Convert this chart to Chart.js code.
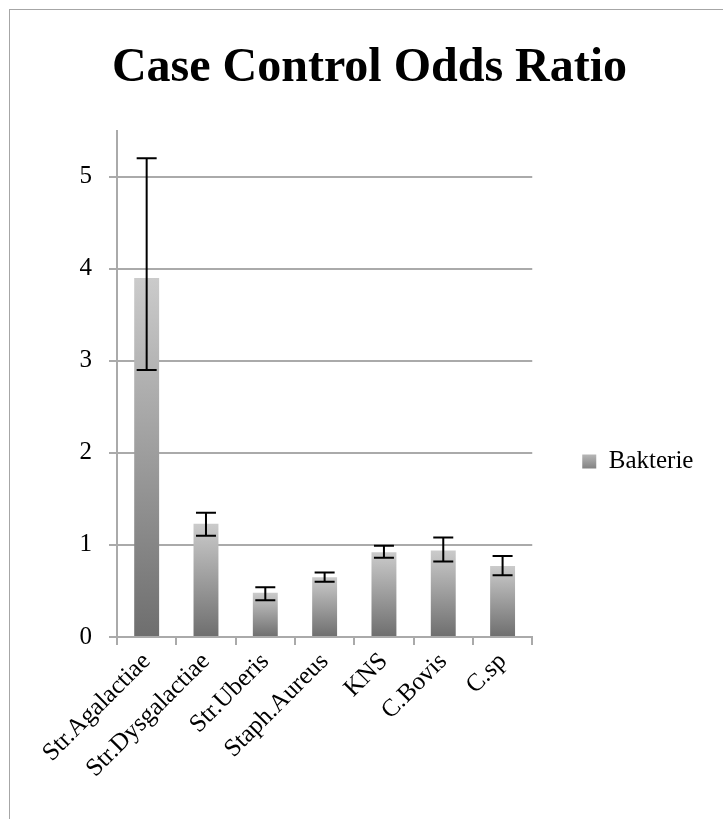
<!DOCTYPE html>
<html lang="en">
<head>
    <meta charset="UTF-8">
    <title>Case Control Odds Ratio</title>
    <script src="https://cdn.jsdelivr.net/npm/chart.js"></script>
    <style>
        html, body { margin: 0; padding: 0; background: #fff; overflow: hidden; }
        #frame { position: absolute; left: 9px; top: 9px; width: 800px; height: 900px; border: 1px solid #a6a6a6; }
        #wrap { position: absolute; left: 0; top: 0; width: 723px; height: 819px; }
    </style>
</head>
<body>
    <div id="frame"></div>
    <div id="wrap"><canvas id="oddsChart" width="723" height="819"></canvas></div>

    <script>
        // values
        const categories = ['Str.Agalactiae', 'Str.Dysgalactiae', 'Str.Uberis', 'Staph.Aureus', 'KNS', 'C.Bovis', 'C.sp'];
        const oddsRatio = [3.9, 1.23, 0.48, 0.65, 0.92, 0.94, 0.77];
        const ciLow = [2.9, 1.1, 0.4, 0.6, 0.86, 0.82, 0.67];
        const ciHigh = [5.2, 1.35, 0.54, 0.7, 0.99, 1.08, 0.88];
        const yTicks = [0, 1, 2, 3, 4, 5];

        const serif = "'Liberation Serif', 'DejaVu Serif', serif";
        const gridGray = '#aaaaaa';

        function barGradient(c, top, bottom) {
            const g = c.createLinearGradient(0, top, 0, bottom);
            g.addColorStop(0, '#cbcbcb');
            g.addColorStop(1, '#6e6e6e');
            return g;
        }

        // error bars drawn from ciLow / ciHigh through the y scale
        const errorBars = {
            id: 'errorBars',
            afterDatasetsDraw(chart) {
                const ctx = chart.ctx;
                const y = chart.scales.y;
                const meta = chart.getDatasetMeta(0);
                ctx.save();
                ctx.strokeStyle = '#000';
                ctx.lineWidth = 2;
                meta.data.forEach((bar, i) => {
                    const top = y.getPixelForValue(ciHigh[i]);
                    const bot = y.getPixelForValue(ciLow[i]);
                    ctx.beginPath();
                    ctx.moveTo(bar.x, top); ctx.lineTo(bar.x, bot);
                    ctx.moveTo(bar.x - 10, top); ctx.lineTo(bar.x + 10, top);
                    ctx.moveTo(bar.x - 10, bot); ctx.lineTo(bar.x + 10, bot);
                    ctx.stroke();
                });
                ctx.restore();
            },
            afterUpdate(chart) {
                // gradient on the legend box as well
                const lg = chart.legend;
                if (!lg || !lg.legendItems || !lg.legendHitBoxes.length) return;
                const hb = lg.legendHitBoxes[0];
                lg.legendItems[0].fillStyle = barGradient(chart.ctx, hb.top, hb.top + hb.height);
            }
        };

        const ctx = document.getElementById('oddsChart').getContext('2d');
        new Chart(ctx, {
            type: 'bar',
            data: {
                labels: categories,
                datasets: [{
                    label: 'Bakterie',
                    data: oddsRatio,
                    backgroundColor: (c) => {
                        const y = c.chart.scales.y;
                        if (c.type !== 'data' || !y) return '#9a9a9a';
                        return barGradient(c.chart.ctx, y.getPixelForValue(c.raw), y.getPixelForValue(0));
                    },
                    borderWidth: 0,
                    barPercentage: 0.42,
                    categoryPercentage: 1
                }]
            },
            options: {
                responsive: false,
                animation: false,
                layout: { padding: { left: 44, right: 28, top: 0, bottom: 0 } },
                plugins: {
                    title: {
                        display: true,
                        text: 'Case Control Odds Ratio',
                        color: '#000',
                        font: { family: serif, size: 48, weight: 'bold' },
                        padding: { top: 40, bottom: 33 }
                    },
                    legend: {
                        position: 'right',
                        fullSize: false,
                        title: { display: true, text: '', padding: { top: 141, bottom: 0 } },
                        labels: {
                            color: '#000',
                            font: { family: serif, size: 25 },
                            boxWidth: 14,
                            boxHeight: 14,
                            padding: 50
                        }
                    },
                    tooltip: { enabled: false }
                },
                scales: {
                    x: {
                        grid: { drawOnChartArea: false, color: gridGray, lineWidth: 2, tickLength: 8 },
                        border: { color: gridGray, width: 2 },
                        ticks: {
                            color: '#000',
                            font: { family: serif, size: 25 },
                            maxRotation: 45,
                            minRotation: 45,
                            padding: 2
                        },
                        afterFit: (s) => { s.height = 182; }
                    },
                    y: {
                        min: 0,
                        max: 5.5,
                        afterBuildTicks: (s) => { s.ticks = yTicks.map(v => ({ value: v })); },
                        grid: { color: gridGray, lineWidth: 2, tickLength: 8 },
                        border: { color: gridGray, width: 2 },
                        ticks: {
                            color: '#000',
                            font: { family: serif, size: 25 },
                            padding: 17
                        },
                        afterFit: (s) => { s.width = 73; }
                    }
                }
            },
            plugins: [errorBars]
        });
    </script>
</body>
</html>
